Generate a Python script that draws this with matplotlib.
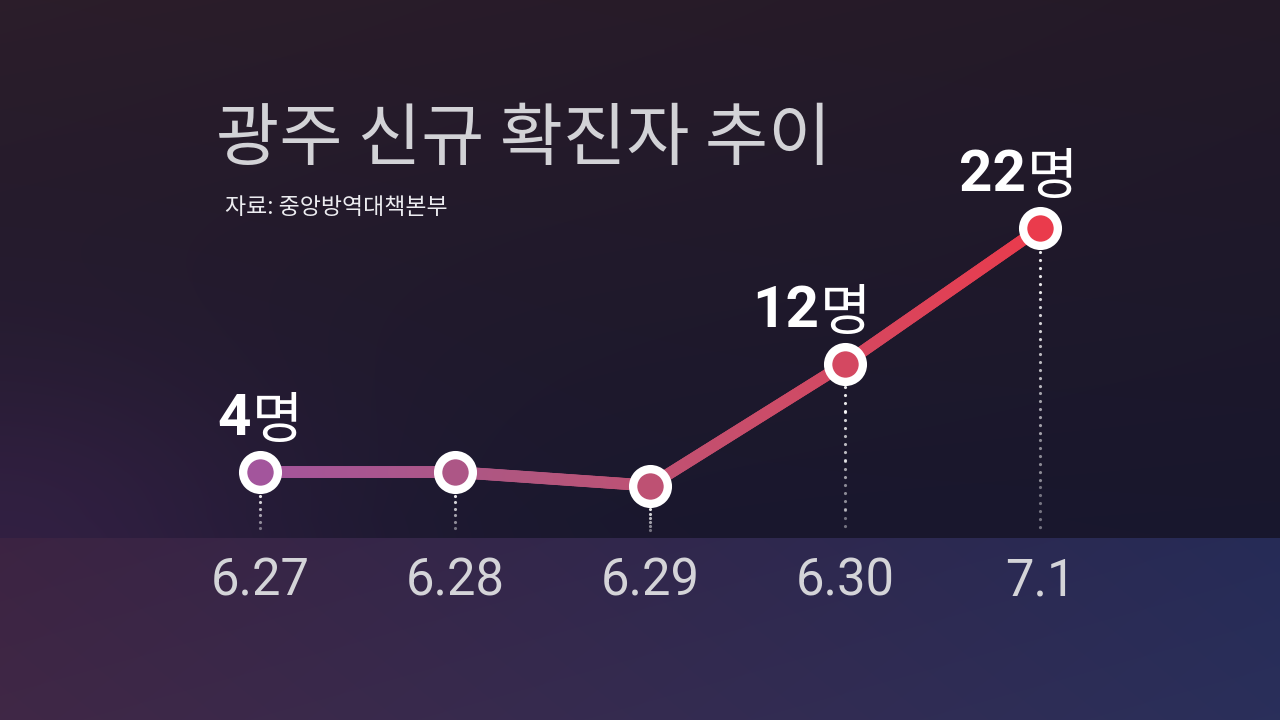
import numpy as np
import matplotlib
matplotlib.use("Agg")
import matplotlib.pyplot as plt
from matplotlib.collections import LineCollection
from matplotlib.colors import LinearSegmentedColormap

# data
dates = ['6.27', '6.28', '6.29', '6.30', '7.1']
cases = [4, 4, 3, 12, 22]
labeled = [0, 3, 4]          # points that carry a "N명" label
title = '광주 신규 확진자 추이'
source = '자료: 중앙방역대책본부'

plt.rcParams['font.family'] = ['Noto Sans CJK KR', 'DejaVu Sans']

W, H = 1280, 720
fig = plt.figure(figsize=(12.8, 7.2), dpi=100)

# ---- background ----
bg = fig.add_axes([0, 0, 1, 1], zorder=0)
yy, xx = np.mgrid[0:H, 0:W]
fy = yy / H
fx = xx / W
top = np.array([0.17, 0.115, 0.165])
mid = np.array([0.105, 0.095, 0.18])
t = np.clip(fy / 0.72, 0, 1)[..., None]
img = top * (1 - t) + mid * t
img = img - (fx * (1 - fy))[..., None] * np.array([0.03, 0.015, 0.01])
g = np.exp(-(((xx - 0) / 330.0) ** 2 + ((yy - 560) / 200.0) ** 2))[..., None]
img = img + g * np.array([0.09, 0.03, 0.08])
band = yy >= 538
left_c = np.array([0.235, 0.14, 0.26])
right_c = np.array([0.15, 0.17, 0.34])
bcol = left_c * (1 - fx[..., None]) + right_c * fx[..., None]
bcol = bcol + ((fy - 0.75) * 0.06)[..., None]
img = np.where(band[..., None], bcol, img)
img = np.clip(img, 0, 1)
bg.imshow(img, extent=[0, 1, 0, 1], aspect='auto', origin='upper')
bg.set_axis_off()

# ---- data axes (full figure) ----
ax = fig.add_axes([0, 0, 1, 1], zorder=1)
ax.patch.set_alpha(0)
x = np.arange(len(cases))
ax.set_xlim(-1.3333, 5.2308)
ax.set_ylim(-14.29, 38.82)
ax.set_axis_off()

cmap = LinearSegmentedColormap.from_list(
    'ln', ['#a3559c', '#b0567f', '#cc4c68', '#ea3b4c'])

# dotted drop lines, fading toward the band
band_top = -0.6
for xi, yi in zip(x, cases):
    y0 = yi - 1.75
    steps = np.linspace(y0, band_top, 7)
    for k in range(6):
        ax.plot([xi, xi], [steps[k], steps[k + 1]], color='white',
                lw=2.3, linestyle=(0, (0.01, 2.5)), dash_capstyle='round',
                alpha=0.9 - 0.1 * k, zorder=2)

# gradient line
xs = np.linspace(0, len(cases) - 1, 400)
ys = np.interp(xs, x, cases)
pts = np.column_stack([xs, ys]).reshape(-1, 1, 2)
segs = np.concatenate([pts[:-1], pts[1:]], axis=1)
lc = LineCollection(segs, colors=cmap(xs[:-1] / (len(cases) - 1)),
                    linewidths=8.5, capstyle='round', zorder=3)
ax.add_collection(lc)

# markers
for xi, yi in zip(x, cases):
    ax.plot(xi, yi, 'o', ms=25, mew=6, mec='white',
            mfc=cmap(xi / (len(cases) - 1)), zorder=4)

# value labels
offs = {0: -9, 3: -26, 4: -14}
for i in labeled:
    ax.annotate(str(cases[i]), (x[i], cases[i]), xytext=(offs[i], 37),
                textcoords='offset pixels', ha='right', va='baseline',
                fontsize=42, fontweight='bold', family=['Roboto', 'DejaVu Sans'],
                color='white', zorder=5)
    ax.annotate('명', (x[i], cases[i]), xytext=(offs[i] + 1, 34),
                textcoords='offset pixels', ha='left', va='baseline',
                fontsize=40, fontweight='light', color='white', zorder=5)

# date labels
for xi, d in zip(x, dates):
    ax.text(xi, -4.1, d, ha='center', va='center', fontsize=36.5,
            family=['Roboto', 'DejaVu Sans'],
            color='#d4d4d8', zorder=5)

# title & source
fig.text(216 / W, 1 - 141 / H, title, ha='left', va='center',
         fontsize=49.5, color='#d2d2d6', zorder=6)
fig.text(225 / W, 1 - 207 / H, source, ha='left', va='center',
         fontsize=16.5, color='#ececf0', zorder=6)

fig.savefig('out.png', dpi=100)
